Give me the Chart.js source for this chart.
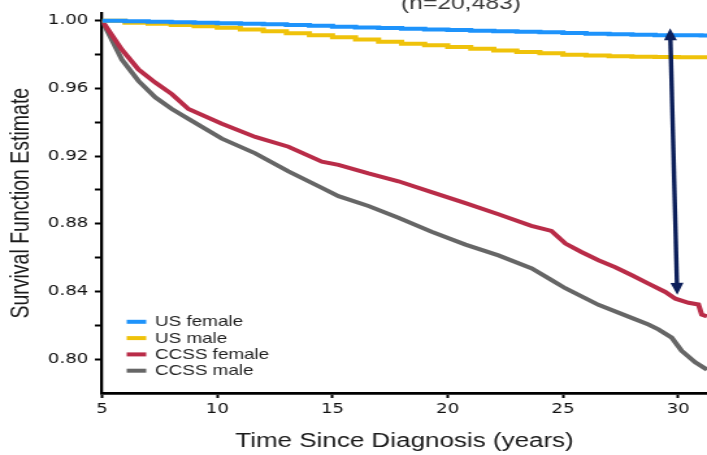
<!DOCTYPE html>
<html>
<head>
<meta charset="utf-8">
<title>Survival Function Estimate</title>
<script src="https://cdn.jsdelivr.net/npm/chart.js@4.4.1/dist/chart.umd.min.js"></script>
<style>
    html, body { margin: 0; padding: 0; background: #fff; overflow: hidden; }
    #wrap { width: 707px; height: 455px; overflow: hidden; }
    /* the figure is drawn narrow and widened to its final size */
    #survivalChart { transform: scaleX(1.2996); transform-origin: 0 0; }
</style>
</head>
<body>
<div id="wrap"><canvas id="survivalChart" width="544" height="455"></canvas></div>
<script>
const xTicks = [5, 10, 15, 20, 25, 30];
const yTicks = [0.80, 0.82, 0.84, 0.86, 0.88, 0.90, 0.92, 0.94, 0.96, 0.98, 1.00];
const yTickLabels = ['0.80', '0.84', '0.88', '0.92', '0.96', '1.00'];

const seriesNames = ['US female', 'US male', 'CCSS female', 'CCSS male'];

// general population, yearly life-table steps
const usYears = [5, 6, 7, 8, 9, 10, 11, 12, 13, 14, 15, 16, 17, 18, 19, 20,
    21, 22, 23, 24, 25, 26, 27, 28, 29, 30, 31, 31.25];
const usFemale = [1.0000, 0.9997, 0.9994, 0.9991, 0.9988, 0.9985, 0.9982, 0.9979, 0.9975, 0.9970,
    0.9964, 0.9960, 0.9956, 0.9952, 0.9948, 0.9945, 0.9941, 0.9938, 0.9935, 0.9931,
    0.9927, 0.9923, 0.9919, 0.9916, 0.9914, 0.9913, 0.9912, 0.9912];
const usMale = [1.0000, 0.9988, 0.9982, 0.9975, 0.9967, 0.9958, 0.9948, 0.9937, 0.9926, 0.9914,
    0.9902, 0.9888, 0.9875, 0.9864, 0.9854, 0.9844, 0.9834, 0.9824, 0.9815, 0.9807,
    0.9799, 0.9794, 0.9790, 0.9787, 0.9785, 0.9784, 0.9784, 0.9784];

// survivor cohort
const ccssFemaleYears = [5, 5.86, 6.58, 7.31, 8.03, 8.75, 10.2, 11.65, 13.09, 14.54, 15.26, 16.56,
    17.86, 19.3, 20.77, 22.2, 23.63, 24.5, 25.11, 25.8, 26.54, 27.27, 27.97, 28.71, 29.44,
    29.88, 30.45, 30.88, 31.02, 31.25];
const ccssFemale = [1.0, 0.9829, 0.9712, 0.9634, 0.9566, 0.9478, 0.9391, 0.9313, 0.9255, 0.9167,
    0.9148, 0.9097, 0.9051, 0.8987, 0.8922, 0.8856, 0.8788, 0.8758, 0.8683, 0.8633, 0.8584,
    0.8543, 0.8497, 0.8446, 0.8397, 0.8357, 0.8333, 0.8323, 0.8264, 0.8253];
const ccssMaleYears = [5, 5.86, 6.58, 7.31, 8.03, 8.75, 10.2, 11.65, 13.09, 14.54, 15.26, 16.56,
    17.86, 19.3, 20.77, 22.2, 23.65, 24.51, 25.1, 26.54, 27.98, 28.71, 29.14, 29.72, 30.15,
    30.74, 31.25];
const ccssMale = [1.0, 0.9770, 0.9644, 0.9547, 0.9478, 0.9420, 0.9303, 0.9216, 0.9109, 0.9012,
    0.8963, 0.8905, 0.8835, 0.8753, 0.8677, 0.8613, 0.8536, 0.8467, 0.8419, 0.8321, 0.8244,
    0.8205, 0.8176, 0.8127, 0.8049, 0.7981, 0.7938];

const seriesColors = ['#1e93fb', '#efc20a', '#b92c48', '#666666'];

// gap arrow between US female and CCSS female near 30 years
const arrowTop = [29.65, 0.9955];
const arrowBottom = [29.96, 0.8380];

function points(xs, ys) {
    return xs.map(function(x, i) { return { x: x, y: ys[i] }; });
}

const overlayPlugin = {
    id: 'overlay',
    afterDatasetsDraw: function(chart) {
        const ctx = chart.ctx;
        const xs = chart.scales.x;
        const ys = chart.scales.y;
        const x1 = xs.getPixelForValue(arrowTop[0]);
        const y1 = ys.getPixelForValue(arrowTop[1]);
        const x2 = xs.getPixelForValue(arrowBottom[0]);
        const y2 = ys.getPixelForValue(arrowBottom[1]);
        const len = Math.hypot(x2 - x1, y2 - y1);
        const ux = (x2 - x1) / len, uy = (y2 - y1) / len;
        const px = -uy, py = ux;
        const headLen = 12, headHalf = 5;

        ctx.save();
        ctx.strokeStyle = '#0c1f5a';
        ctx.fillStyle = '#0c1f5a';
        ctx.lineWidth = 3.4;
        ctx.beginPath();
        ctx.moveTo(x1 + ux * (headLen - 1), y1 + uy * (headLen - 1));
        ctx.lineTo(x2 - ux * (headLen - 1), y2 - uy * (headLen - 1));
        ctx.stroke();

        [[x1, y1, 1], [x2, y2, -1]].forEach(function(h) {
            const bx = h[0] + ux * headLen * h[2];
            const by = h[1] + uy * headLen * h[2];
            ctx.beginPath();
            ctx.moveTo(h[0], h[1]);
            ctx.lineTo(bx + px * headHalf, by + py * headHalf);
            ctx.lineTo(bx - px * headHalf, by - py * headHalf);
            ctx.closePath();
            ctx.fill();
        });
        ctx.restore();
    },
    afterDraw: function(chart) {
        const ctx = chart.ctx;
        ctx.save();

        // legend in the lower left of the plot
        ctx.font = '14.5px "Liberation Sans", Arial, sans-serif';
        ctx.textBaseline = 'middle';
        ctx.textAlign = 'left';
        chart.data.datasets.forEach(function(ds, i) {
            const rowY = 321.8 + i * 16.3;
            ctx.fillStyle = ds.borderColor;
            ctx.fillRect(97.5, rowY - 2, 15, 4);
            ctx.fillStyle = '#1f1f1f';
            ctx.fillText(ds.label, 119.3, rowY + 0.5);
        });

        // cohort size, mostly cut off at the top edge
        ctx.font = '19px "Liberation Sans", Arial, sans-serif';
        ctx.textAlign = 'center';
        ctx.textBaseline = 'alphabetic';
        ctx.fillStyle = '#3a3a3a';
        ctx.fillText('(n=20,483)', 354.7, 8.5);
        ctx.restore();
    }
};

document.addEventListener('DOMContentLoaded', function() {
    const ctx = document.getElementById('survivalChart').getContext('2d');

    const seriesData = [
        { pts: points(usYears, usFemale), stepped: true },
        { pts: points(usYears, usMale), stepped: true },
        { pts: points(ccssFemaleYears, ccssFemale), stepped: false },
        { pts: points(ccssMaleYears, ccssMale), stepped: false }
    ];

    new Chart(ctx, {
        type: 'line',
        data: {
            datasets: seriesData.map(function(s, i) {
                return {
                    label: seriesNames[i],
                    data: s.pts,
                    stepped: s.stepped,
                    borderColor: seriesColors[i],
                    backgroundColor: seriesColors[i],
                    borderWidth: 4,
                    pointRadius: 0,
                    tension: 0,
                    fill: false
                };
            })
        },
        options: {
            responsive: false,
            animation: false,
            devicePixelRatio: 1,
            layout: { padding: { top: 10, right: 0, bottom: 0, left: 0 } },
            plugins: {
                legend: { display: false },
                tooltip: { enabled: false }
            },
            scales: {
                x: {
                    type: 'linear',
                    min: 5,
                    max: 31.25,
                    afterBuildTicks: function(scale) {
                        scale.ticks = xTicks.map(function(v) { return { value: v }; });
                    },
                    afterFit: function(scale) { scale.height = 62; },
                    border: { display: true, color: '#000', width: 2.8 },
                    grid: { drawOnChartArea: false, drawTicks: true, tickLength: 5, tickWidth: 2, tickColor: '#000' },
                    ticks: {
                        autoSkip: false,
                        maxRotation: 0,
                        padding: 3,
                        color: '#111',
                        font: { family: '"DejaVu Sans", sans-serif', size: 14 }
                    },
                    title: {
                        display: true,
                        text: 'Time Since Diagnosis (years)',
                        color: '#1a1a1a',
                        padding: { top: 0, bottom: 2 },
                        font: { family: '"Liberation Sans", Arial, sans-serif', size: 20 }
                    }
                },
                y: {
                    type: 'linear',
                    min: 0.78,
                    max: 1.00428,
                    afterBuildTicks: function(scale) {
                        scale.ticks = yTicks.map(function(v) { return { value: v }; });
                    },
                    afterFit: function(scale) { scale.width = 78.5; },
                    border: { display: true, color: '#000', width: 2.3 },
                    grid: { drawOnChartArea: false, drawTicks: true, tickLength: 5.5, tickWidth: 2, tickColor: '#000' },
                    ticks: {
                        autoSkip: false,
                        padding: 5,
                        color: '#111',
                        font: { family: '"DejaVu Sans", sans-serif', size: 14 },
                        callback: function(value) {
                            const s = value.toFixed(2);
                            return yTickLabels.includes(s) ? s : '';
                        }
                    },
                    title: {
                        display: true,
                        text: 'Survival Function Estimate',
                        color: '#1a1a1a',
                        padding: { top: 4.5, bottom: 0 },
                        font: { family: '"Liberation Sans", Arial, sans-serif', size: 19.5 }
                    }
                }
            }
        },
        plugins: [overlayPlugin]
    });
});
</script>
</body>
</html>
